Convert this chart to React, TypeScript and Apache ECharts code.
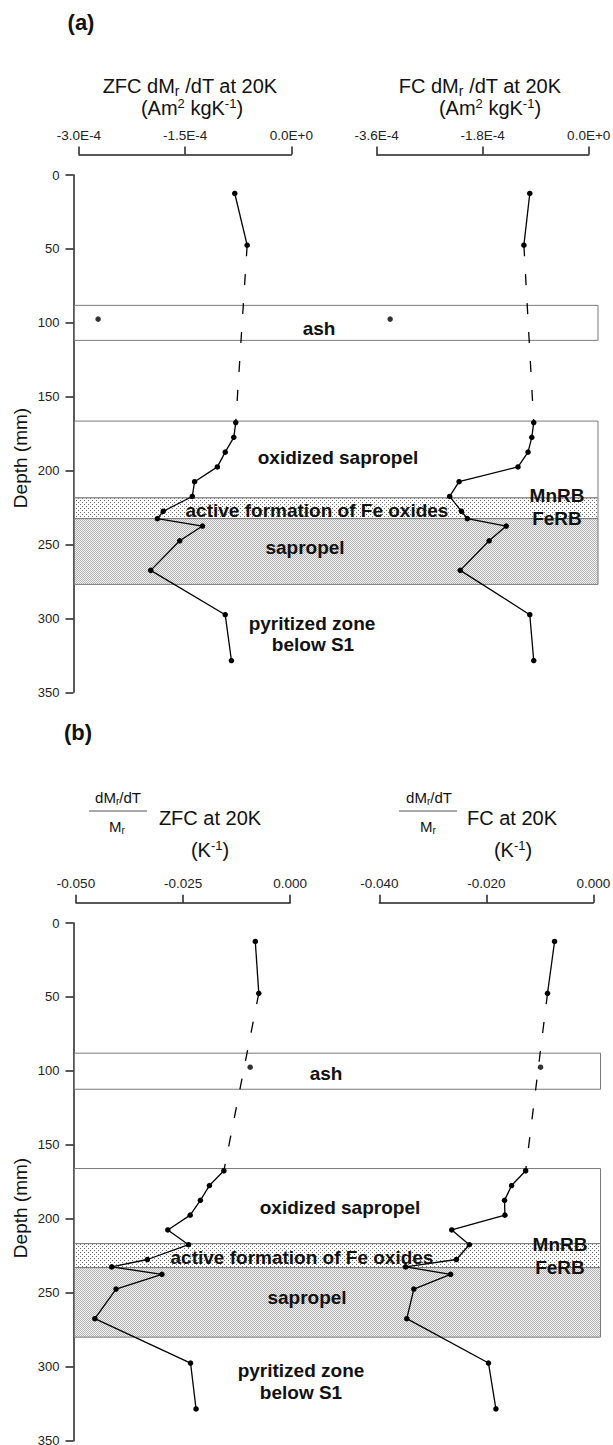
import React, { useEffect, useRef } from "react";
import * as echarts from "echarts";

// ---------- data ----------
const depths = [12.5, 47.5, 97.5, 167.5, 177.5, 187.5, 197.5, 207.5, 217.5, 227.5, 232.5, 237.5, 247.5, 267.5, 297.5, 328.5];

// panel (a): dMr/dT at 20K (Am2 kg-1 K-1)
const zfcA = [-0.8e-4, -0.625e-4, -2.73e-4, -0.786e-4, -0.814e-4, -0.935e-4, -1.046e-4, -1.367e-4, -1.4e-4, -1.81e-4, -1.893e-4, -1.256e-4, -1.577e-4, -1.987e-4, -0.935e-4, -0.847e-4];
const fcA = [-1.0e-4, -1.1e-4, -3.37e-4, -0.933e-4, -0.966e-4, -1.03e-4, -1.2e-4, -2.2e-4, -2.36e-4, -2.16e-4, -2.06e-4, -1.4e-4, -1.69e-4, -2.18e-4, -1.0e-4, -0.933e-4];

// panel (b): (dMr/dT)/Mr at 20K (K-1)
const zfcB = [-0.00815, -0.00733, -0.00934, -0.01548, -0.01886, -0.02097, -0.02335, -0.02857, -0.02372, -0.03333, -0.04167, -0.02995, -0.04066, -0.0456, -0.02326, -0.02198];
const fcB = [-0.00724, -0.00856, -0.00987, -0.01265, -0.01528, -0.0166, -0.01653, -0.02647, -0.02318, -0.0256, -0.0351, -0.02669, -0.03356, -0.03488, -0.0196, -0.01821];

// axis ranges
const axisA1 = [-3.0e-4, 1.5e-4]; // min, interval
const axisA2 = [-3.6e-4, 1.8e-4];
const axisB1 = [-0.05, 0.025];
const axisB2 = [-0.04, 0.02];
const depthTicks = [0, 350, 50];

// zones (depth mm)
const zoneKinds = ["ash", "oxidized", "MnRB", "sapropel"];
const zoneTopA = [88.2, 166.5, 218.5, 232.5];
const zoneBottomA = [111.9, 218.5, 232.5, 277];
const zoneTopB = [88, 166, 216.8, 233];
const zoneBottomB = [112.4, 216.8, 233, 280];

const FONT = "'Liberation Sans', Arial, Helvetica, sans-serif";

function sciLabel(v: number): string {
  if (v === 0) return "0.0E+0";
  const e = Math.floor(Math.log10(Math.abs(v)) + 1e-9);
  const m = v / Math.pow(10, e);
  return m.toFixed(1) + "E" + (e >= 0 ? "+" + e : String(e));
}

function makePattern(kind: string): any {
  const c = document.createElement("canvas");
  const ctx = c.getContext("2d")!;
  if (kind === "dots") {
    c.width = 4;
    c.height = 4;
    ctx.fillStyle = "#ffffff";
    ctx.fillRect(0, 0, 4, 4);
    ctx.fillStyle = "#6e6e6e";
    ctx.fillRect(0, 0, 1, 1);
    ctx.fillRect(2, 2, 1, 1);
  } else {
    c.width = 2;
    c.height = 2;
    ctx.fillStyle = "#f2f2f2";
    ctx.fillRect(0, 0, 2, 2);
    ctx.fillStyle = "#b4b4b4";
    ctx.fillRect(0, 0, 1, 1);
    ctx.fillRect(1, 1, 1, 1);
  }
  return { image: c.toDataURL(), repeat: "repeat", imageWidth: c.width, imageHeight: c.height };
}

const axisColor = "#222";

function dataXAxis(gridIndex: number, range: number[], offset: number, fmt: (v: number) => string) {
  return {
    gridIndex,
    type: "value",
    position: "top",
    offset,
    min: range[0],
    max: 0,
    interval: range[1],
    axisLine: { show: true, onZero: false, lineStyle: { color: axisColor, width: 1.5 } },
    axisTick: { show: true, length: 8, lineStyle: { color: axisColor, width: 1.5 } },
    axisLabel: { margin: 12, fontSize: 13.5, color: axisColor, fontFamily: FONT, formatter: fmt },
    splitLine: { show: false },
  };
}

function hiddenY(gridIndex: number) {
  return {
    gridIndex,
    type: "value",
    inverse: true,
    min: depthTicks[0],
    max: depthTicks[1],
    show: false,
    axisLine: { onZero: false },
    splitLine: { show: false },
  };
}

function depthY(gridIndex: number) {
  return {
    gridIndex,
    type: "value",
    inverse: true,
    position: "left",
    min: depthTicks[0],
    max: depthTicks[1],
    interval: depthTicks[2],
    axisLine: { show: true, onZero: false, lineStyle: { color: axisColor, width: 1.5 } },
    axisTick: { show: true, length: 8, lineStyle: { color: axisColor, width: 1.5 } },
    axisLabel: { margin: 14, fontSize: 13, color: axisColor, fontFamily: FONT },
    splitLine: { show: false },
  };
}

function bandX(gridIndex: number) {
  return { gridIndex, type: "value", min: 0, max: 1, show: false, axisLine: { onZero: false }, splitLine: { show: false } };
}

function columnSeries(axisIndex: number, vals: number[]) {
  const pts = depths.map((d, i) => [vals[i], d]);
  const common = { xAxisIndex: axisIndex, yAxisIndex: axisIndex, z: 5 };
  const solid = {
    symbol: "circle",
    symbolSize: 5.5,
    itemStyle: { color: "#000" },
    lineStyle: { color: "#000", width: 1.3 },
  };
  return [
    { type: "line", ...common, ...solid, data: pts.slice(0, 2) },
    {
      type: "line",
      ...common,
      data: [pts[1], pts[3]],
      symbol: "none",
      lineStyle: { color: "#000", width: 1.3, type: [11, 18] },
    },
    { type: "scatter", ...common, data: [pts[2]], symbolSize: 5.5, itemStyle: { color: "#000" } },
    { type: "line", ...common, ...solid, data: pts.slice(3) },
  ];
}

function bandSeries(axisIndex: number, tops: number[], bottoms: number[], fills: any) {
  return {
    type: "custom",
    xAxisIndex: axisIndex,
    yAxisIndex: axisIndex,
    z: 1,
    data: tops.map((t, i) => [t, bottoms[i], i]),
    renderItem: (params: any, api: any) => {
      const kind = zoneKinds[api.value(2)];
      const p0 = api.coord([0, api.value(0)]);
      const p1 = api.coord([1, api.value(1)]);
      return {
        type: "rect",
        shape: { x: p0[0] + 1, y: p0[1], width: p1[0] - p0[0] - 1, height: p1[1] - p0[1] },
        style: { fill: fills[kind], stroke: "#7a7a7a", lineWidth: 1 },
      };
    },
  };
}

function txt(x: number, y: number, text: string, size: number, bold: boolean, extra: any = {}) {
  return {
    type: "text",
    x,
    y,
    z: 100,
    rotation: extra.rotation || 0,
    style: {
      text,
      fill: "#111",
      font: `${bold ? "bold " : ""}${size}px ${FONT}`,
      fontSize: size,
      fontFamily: FONT,
      fontWeight: bold ? "bold" : "normal",
      align: "center",
      textAlign: "center",
      verticalAlign: "middle",
      textVerticalAlign: "middle",
      rich: extra.rich,
    },
  };
}

function richStyles(size: number) {
  const pad = Math.round(size * 0.5);
  return {
    n: { fontSize: size, fontFamily: FONT, fill: "#111", color: "#111", lineHeight: size },
    sub: { fontSize: Math.round(size * 0.68), fontFamily: FONT, fill: "#111", color: "#111", lineHeight: 7, padding: [pad, 0, 0, 0] },
    sup: { fontSize: Math.round(size * 0.63), fontFamily: FONT, fill: "#111", color: "#111", lineHeight: 7, padding: [0, 0, pad, 0] },
  };
}

function rich(x: number, y: number, text: string, size: number) {
  return txt(x, y, text, size, false, { rich: richStyles(size) });
}

function fracLine(x1: number, x2: number, y: number) {
  return { type: "line", z: 100, shape: { x1, y1: y, x2, y2: y }, style: { stroke: "#555", lineWidth: 1 } };
}

function zoneLabels(pos: any) {
  return [
    txt(pos.ash[0], pos.ash[1], "ash", 19, true),
    txt(pos.ox[0], pos.ox[1], "oxidized sapropel", 19, true),
    txt(pos.act[0], pos.act[1], "active formation of Fe oxides", 19, true),
    txt(pos.mn[0], pos.mn[1], "MnRB", 19, true),
    txt(pos.fe[0], pos.fe[1], "FeRB", 19, true),
    txt(pos.sap[0], pos.sap[1], "sapropel", 19, true),
    txt(pos.py[0], pos.py[1], "pyritized zone", 19, true),
    txt(pos.be[0], pos.be[1], "below S1", 19, true),
  ];
}

export default function App() {
  const ref = useRef<HTMLDivElement>(null);

  useEffect(() => {
    if (!ref.current) return;
    const chart = echarts.init(ref.current, null, { renderer: "svg" });
    const fills: any = {
      ash: "#ffffff",
      oxidized: "#ffffff",
      MnRB: makePattern("dots"),
      sapropel: makePattern("dense"),
    };
    const hA = 517.3;
    const hB = 517.7;
    const option: any = {
      animation: false,
      backgroundColor: "#ffffff",
      grid: [
        { left: 73.5, top: 175, width: 524.5, height: hA, outerBoundsMode: "none" },
        { left: 79, top: 175, width: 212.4, height: hA, outerBoundsMode: "none" },
        { left: 376.6, top: 175, width: 212.1, height: hA, outerBoundsMode: "none" },
        { left: 73.5, top: 923, width: 527, height: hB, outerBoundsMode: "none" },
        { left: 76, top: 923, width: 214.2, height: hB, outerBoundsMode: "none" },
        { left: 379.4, top: 923, width: 213.9, height: hB, outerBoundsMode: "none" },
      ],
      xAxis: [
        bandX(0),
        dataXAxis(1, axisA1, 20.5, sciLabel),
        dataXAxis(2, axisA2, 20.5, sciLabel),
        bandX(3),
        dataXAxis(4, axisB1, 20.3, (v: number) => v.toFixed(3)),
        dataXAxis(5, axisB2, 20.3, (v: number) => v.toFixed(3)),
      ],
      yAxis: [depthY(0), hiddenY(1), hiddenY(2), depthY(3), hiddenY(4), hiddenY(5)],
      series: [
        bandSeries(0, zoneTopA, zoneBottomA, fills),
        bandSeries(3, zoneTopB, zoneBottomB, fills),
        ...columnSeries(1, zfcA),
        ...columnSeries(2, fcA),
        ...columnSeries(4, zfcB),
        ...columnSeries(5, fcB),
      ],
      graphic: {
        elements: [
          // panel (a)
          txt(81, 22, "(a)", 22, true),
          rich(190, 86, "{n|ZFC dM}{sub|r}{n| /dT at 20K}", 20),
          rich(192, 108, "{n|(Am}{sup|2}{n| kgK}{sup|-1}{n|)}", 20),
          rich(480, 86, "{n|FC dM}{sub|r}{n| /dT at 20K}", 20),
          rich(490, 108, "{n|(Am}{sup|2}{n| kgK}{sup|-1}{n|)}", 20),
          txt(20, 458, "Depth (mm)", 19, false, { rotation: Math.PI / 2 }),
          ...zoneLabels({
            ash: [319, 328],
            ox: [338, 457],
            act: [317, 510],
            mn: [557, 495],
            fe: [557, 518],
            sap: [305, 547],
            py: [312, 623],
            be: [313, 644],
          }),
          // panel (b)
          txt(78, 732, "(b)", 22, true),
          rich(118, 797, "{n|dM}{sub|r}{n|/dT}", 15),
          fracLine(89, 147, 811),
          rich(117, 826, "{n|M}{sub|r}", 15),
          rich(210, 818, "{n|ZFC at 20K}", 20),
          rich(210, 850, "{n|(K}{sup|-1}{n|)}", 20),
          rich(429, 797, "{n|dM}{sub|r}{n|/dT}", 15),
          fracLine(399, 457, 811),
          rich(428, 826, "{n|M}{sub|r}", 15),
          rich(512, 818, "{n|FC at 20K}", 20),
          rich(513, 850, "{n|(K}{sup|-1}{n|)}", 20),
          txt(20, 1208, "Depth (mm)", 19, false, { rotation: Math.PI / 2 }),
          ...zoneLabels({
            ash: [326, 1073],
            ox: [340, 1207],
            act: [302, 1257],
            mn: [560, 1244],
            fe: [560, 1267],
            sap: [307, 1297],
            py: [301, 1370],
            be: [301, 1392],
          }),
        ],
      },
    };
    chart.setOption(option);
    return () => chart.dispose();
  }, []);

  return (
    <div
      ref={ref}
      style={{ position: "absolute", left: 0, top: 0, width: 613, height: 1445, background: "#fff" }}
    />
  );
}
